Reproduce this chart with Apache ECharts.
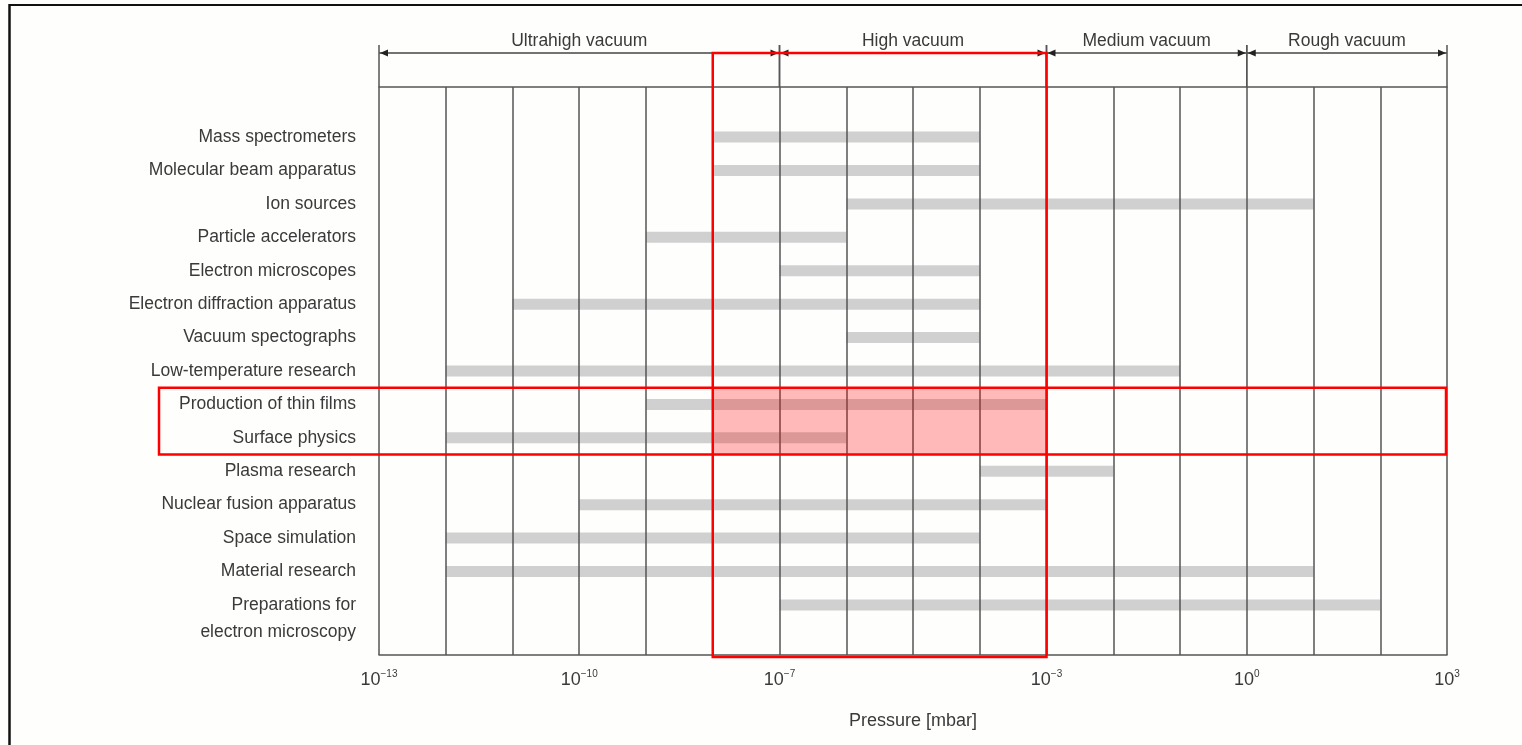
<!DOCTYPE html>
<html>
<head>
<meta charset="utf-8">
<script src="https://cdn.jsdelivr.net/npm/echarts@6/dist/echarts.min.js"></script>
<style>
html,body{margin:0;padding:0;background:#fefefd;}
#chart{width:1522px;height:745px;}
</style>
</head>
<body>
<div id="chart"></div>
<script>
// ---------- data ----------
var applications = [
  'Mass spectrometers',
  'Molecular beam apparatus',
  'Ion sources',
  'Particle accelerators',
  'Electron microscopes',
  'Electron diffraction apparatus',
  'Vacuum spectographs',
  'Low-temperature research',
  'Production of thin films',
  'Surface physics',
  'Plasma research',
  'Nuclear fusion apparatus',
  'Space simulation',
  'Material research',
  'Preparations for\nelectron microscopy'
];
var pressureFrom = [1e-8, 1e-8, 1e-6, 1e-9, 1e-7, 1e-11, 1e-6, 1e-12, 1e-9, 1e-12, 1e-4, 1e-10, 1e-12, 1e-12, 1e-7];
var pressureTo   = [1e-4, 1e-4, 1e1,  1e-6, 1e-4, 1e-4,  1e-4, 1e-1,  1e-3, 1e-6,  1e-2, 1e-3,  1e-4,  1e1,   1e2];

var vacuumRanges = ['Ultrahigh vacuum', 'High vacuum', 'Medium vacuum', 'Rough vacuum'];
var vacuumFrom   = [1e-13, 1e-7, 1e-3, 1e0];
var vacuumTo     = [1e-7, 1e-3, 1e0, 1e3];

var tickLabelExponents = [-13, -10, -7, -3, 0, 3];
var axisTitle = 'Pressure [mbar]';

var highlightPressure = [1e-8, 1e-3];
var highlightRows = ['Production of thin films', 'Surface physics'];

// ---------- build ----------
var FONT = '"Liberation Sans","Arial",sans-serif';
var TXT = '#3a3a3a';
var LINE = '#555555';
var FS = 17.5;

var categories = [''].concat(applications).concat(['']);
var barData = applications.map(function (n, i) {
  return [pressureFrom[i], pressureTo[i], i + 1];
});
var headerData = vacuumRanges.map(function (n, i) {
  return [vacuumFrom[i], vacuumTo[i]];
});

function labelText(s) {
  return s.indexOf('\n') >= 0 ? '\n' + s : s;
}

var chart = echarts.init(document.getElementById('chart'), null, {renderer: 'canvas'});

var option = {
  backgroundColor: '#fefefd',
  animation: false,
  grid: {left: 379, right: 75, top: 87, bottom: 90},
  xAxis: [{
    type: 'log',
    logBase: 10,
    min: 1e-13,
    max: 1e3,
    interval: 1,
    z: 3,
    axisLine: {show: true, lineStyle: {color: LINE, width: 1.5}},
    axisTick: {show: false},
    splitLine: {show: true, lineStyle: {color: LINE, width: 1.5}},
    axisLabel: {
      margin: 14,
      formatter: function (v) {
        var e = Math.round(Math.log(v) / Math.LN10);
        if (tickLabelExponents.indexOf(e) < 0) return '';
        return '{b|10}{s|' + (e < 0 ? '\u2212' + (-e) : e) + '}';
      },
      rich: {
        b: {fontFamily: FONT, fontSize: 18, color: TXT, lineHeight: 22},
        s: {fontFamily: FONT, fontSize: 10, color: TXT, verticalAlign: 'top', lineHeight: 20}
      }
    },
    name: axisTitle,
    nameLocation: 'middle',
    nameGap: 57,
    nameTextStyle: {fontFamily: FONT, fontSize: 18, color: TXT}
  }, {
    type: 'log',
    logBase: 10,
    min: 1e-13,
    max: 1e3,
    position: 'top',
    z: 3,
    axisLine: {show: true, lineStyle: {color: LINE, width: 1.5}},
    axisTick: {show: false},
    axisLabel: {show: false},
    splitLine: {show: false}
  }],
  yAxis: {
    type: 'category',
    data: categories,
    inverse: true,
    axisLine: {show: false},
    axisTick: {show: false},
    splitLine: {show: false},
    axisLabel: {
      margin: 23,
      fontFamily: FONT,
      fontSize: FS,
      color: TXT,
      lineHeight: 27,
      formatter: labelText
    }
  },
  series: [{
    type: 'custom',
    name: 'ranges',
    z: 2,
    data: barData,
    encode: {x: [0, 1], y: 2},
    renderItem: function (params, api) {
      var p0 = api.coord([api.value(0), api.value(2)]);
      var p1 = api.coord([api.value(1), api.value(2)]);
      var h = 11;
      return {
        type: 'rect',
        shape: {x: p0[0], y: p0[1] - h / 2, width: p1[0] - p0[0], height: h},
        style: {fill: '#d0d0d0'}
      };
    }
  }, {
    type: 'custom',
    name: 'header',
    z: 4,
    clip: false,
    data: headerData,
    encode: {x: [0, 1]},
    renderItem: function (params, api) {
      var top = params.coordSys.y;
      var x0 = api.coord([api.value(0), 1])[0];
      var x1 = api.coord([api.value(1), 1])[0];
      var ya = top - 34;
      var aw = 8, ah = 3.5;
      var ch = [
        {type: 'line', shape: {x1: x0, y1: ya, x2: x1, y2: ya}, style: {stroke: '#444', lineWidth: 1.3}},
        {type: 'polygon', shape: {points: [[x0 + 1, ya], [x0 + 1 + aw, ya - ah], [x0 + 1 + aw, ya + ah]]}, style: {fill: '#222'}},
        {type: 'polygon', shape: {points: [[x1 - 1, ya], [x1 - 1 - aw, ya - ah], [x1 - 1 - aw, ya + ah]]}, style: {fill: '#222'}},
        {type: 'line', shape: {x1: x0, y1: top - 42, x2: x0, y2: top}, style: {stroke: LINE, lineWidth: 1.5}},
        {type: 'line', shape: {x1: x1, y1: top - 42, x2: x1, y2: top}, style: {stroke: LINE, lineWidth: 1.5}},
        {type: 'text', style: {x: (x0 + x1) / 2, y: top - 46, text: vacuumRanges[params.dataIndex], textAlign: 'center', textVerticalAlign: 'middle', fontFamily: FONT, fontSize: FS, fill: TXT}}
      ];
      return {type: 'group', children: ch};
    }
  }, {
    type: 'custom',
    name: 'highlight',
    z: 5,
    clip: false,
    data: [[highlightPressure[0], highlightPressure[1]]],
    encode: {x: [0, 1]},
    renderItem: function (params, api) {
      var cs = params.coordSys;
      var top = cs.y, bottom = cs.y + cs.height;
      var x0 = api.coord([api.value(0), 1])[0];
      var x1 = api.coord([api.value(1), 1])[0];
      var xMax = api.coord([1e3, 1])[0];
      var band = api.size([0, 1])[1];
      var r0 = applications.indexOf(highlightRows[0]) + 1;
      var r1 = applications.indexOf(highlightRows[1]) + 1;
      var yA = api.coord([1, r0])[1] - band / 2;
      var yB = api.coord([1, r1])[1] + band / 2;
      return {type: 'group', children: [
        {type: 'rect', shape: {x: x0, y: yA, width: x1 - x0, height: yB - yA}, style: {fill: 'rgba(255,0,0,0.27)'}},
        {type: 'rect', shape: {x: x0, y: top - 34, width: x1 - x0, height: bottom - top + 36}, style: {fill: null, stroke: '#ff0000', lineWidth: 2.5}},
        {type: 'rect', shape: {x: cs.x - 220, y: yA, width: xMax - 1 - (cs.x - 220), height: yB - yA}, style: {fill: null, stroke: '#ff0000', lineWidth: 2.5}}
      ]};
    }
  }],
  graphic: [
    {type: 'line', shape: {x1: 9.5, y1: 5, x2: 1522, y2: 5}, style: {stroke: '#111', lineWidth: 2}},
    {type: 'line', shape: {x1: 9.5, y1: 4, x2: 9.5, y2: 745}, style: {stroke: '#111', lineWidth: 2.5}}
  ]
};
chart.setOption(option);
</script>
</body>
</html>
